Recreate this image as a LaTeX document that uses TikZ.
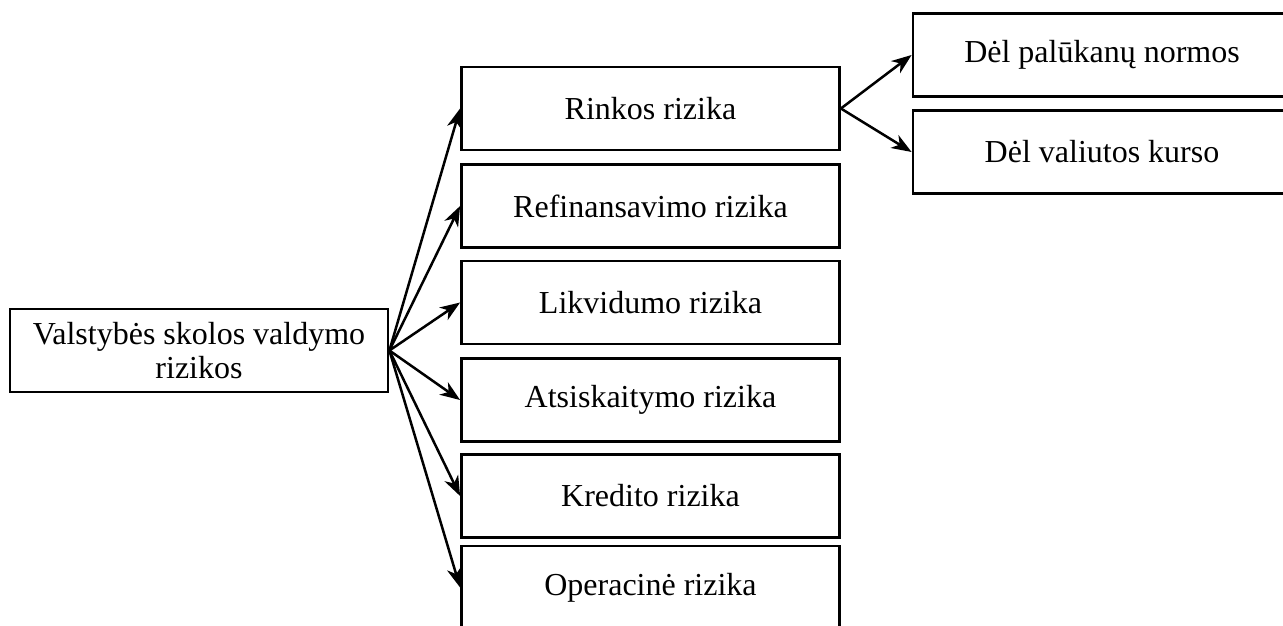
\documentclass[tikz,border=0pt]{standalone}
\usepackage{fontspec}
\setmainfont{Liberation Serif}
\usetikzlibrary{arrows.meta}
\begin{document}
\begin{tikzpicture}[x=1pt,y=-1pt,
  box/.style={draw, line width=2.8pt, minimum width=378pt, minimum height=83pt,
    inner sep=0pt, align=center, font=\fontsize{32}{33.5}\selectfont},
  link/.style={line width=2.5pt, -{Stealth[length=20pt,width=15pt,inset=6pt]}}]
\useasboundingbox (0,0) rectangle (1283,626);
\clip (0,0) rectangle (1283,626);
\fill[white] (0,0) rectangle (1283,626);

% root
\node[box] (root) at (199,350.5) {Valstybės skolos valdymo\\rizikos};

% risk categories
\node[box] (rinkos) at (650.5,108.5) {Rinkos rizika};
\node[box] (refin)  at (650.5,206)   {Refinansavimo rizika};
\node[box] (likv)   at (650.5,302.5) {Likvidumo rizika};
\node[box] (atsisk) at (650.5,400)   {Atsiskaitymo rizika};
\node[box] (kred)   at (650.5,496)   {Kredito rizika};
\node[box] (oper)   at (650.5,587.5) {Operacinė rizika};

% market risk breakdown
\node[box] (paluk)  at (1102,55)  {Dėl palūkanų normos};
\node[box] (valiut) at (1102,152) {Dėl valiutos kurso};

\foreach \t in {rinkos,refin,likv,atsisk,kred,oper}
  \draw[link] (root.east) -- (\t.west);
\draw[link] (rinkos.east) -- (paluk.west);
\draw[link] (rinkos.east) -- (valiut.west);
\end{tikzpicture}
\end{document}
